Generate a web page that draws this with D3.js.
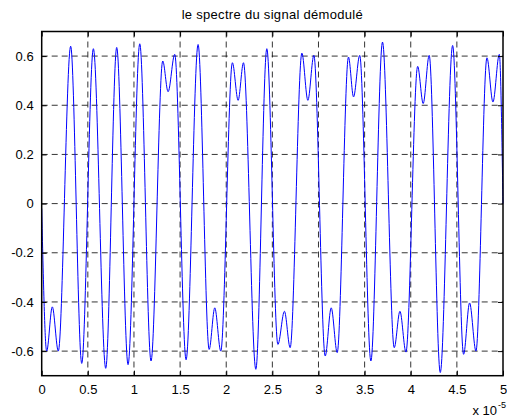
<!DOCTYPE html>
<html>
<head>
<meta charset="utf-8">
<script src="https://cdn.jsdelivr.net/npm/d3@7"></script>
<style>
  body { margin: 0; background: #fff; }
  text { font-family: "Liberation Sans", Arial, sans-serif; fill: #000; }
</style>
</head>
<body>
<svg></svg>
<script>
let width = 507;
let height = 418;

// time axis in units of 1e-5 s
let xTicks = [0, 0.5, 1, 1.5, 2, 2.5, 3, 3.5, 4, 4.5, 5];
let yTicks = [-0.6, -0.4, -0.2, 0, 0.2, 0.4, 0.6];

// extrema of the demodulated signal
let sigT = [0, 0.054, 0.115, 0.180, 0.314, 0.434, 0.560, 0.694, 0.813, 0.936,
            1.063, 1.185, 1.312, 1.370, 1.442, 1.565, 1.695, 1.815, 1.876, 1.941,
            2.067, 2.129, 2.187, 2.321, 2.440, 2.560, 2.631, 2.693, 2.820, 2.885,
            2.950, 3.073, 3.138, 3.203, 3.325, 3.380, 3.447, 3.568, 3.694, 3.821,
            3.883, 3.948, 4.075, 4.135, 4.200, 4.320, 4.454, 4.573, 4.638, 4.707,
            4.826, 4.891, 4.960, 5];
let sigV = [-0.02, -0.60, -0.42, -0.60, 0.64, -0.65, 0.63, -0.67, 0.635, -0.655,
            0.65, -0.64, 0.58, 0.455, 0.607, -0.635, 0.647, -0.593, -0.424, -0.60,
            0.573, 0.42, 0.573, -0.674, 0.63, -0.573, -0.438, -0.586, 0.612, 0.42,
            0.603, -0.62, -0.424, -0.606, 0.596, 0.434, 0.603, -0.64, 0.657, -0.586,
            -0.438, -0.604, 0.558, 0.407, 0.603, -0.687, 0.643, -0.613, -0.404, -0.60,
            0.593, 0.413, 0.607, 0.0];

let data = sigT.map((t, i) => ({ t: t, v: sigV[i] }));

let pLeft = 41.7, pRight = 503, pTop = 31.5, pBottom = 375.7;

let svg = d3.select("svg")
            .attr("width", width)
            .attr("height", height);

let xScale = d3.scaleLinear()
               .domain([0, 5])
               .range([pLeft, pRight]);

let yScale = d3.scaleLinear()
               .domain([-0.7, 0.7])
               .range([pBottom, pTop]);

// grid
let grid = svg.append("g")
              .attr("stroke", "#000")
              .attr("stroke-width", 0.8)
              .attr("stroke-dasharray", "6,4");

grid.selectAll(".gx")
    .data(xTicks.slice(1, -1))
    .enter()
    .append("line")
    .attr("x1", (d) => xScale(d))
    .attr("x2", (d) => xScale(d))
    .attr("y1", pTop)
    .attr("y2", pBottom);

grid.selectAll(".gy")
    .data(yTicks)
    .enter()
    .append("line")
    .attr("x1", pLeft)
    .attr("x2", pRight)
    .attr("y1", (d) => yScale(d))
    .attr("y2", (d) => yScale(d));

// signal
let line = d3.line()
             .x((d) => xScale(d.t))
             .y((d) => yScale(d.v))
             .curve(d3.curveMonotoneX);

svg.append("path")
   .datum(data)
   .attr("d", line)
   .attr("fill", "none")
   .attr("stroke", "#0000ff")
   .attr("stroke-width", 1);

// axes, ticks pointing inward
let fmt = (d) => String(d);

svg.append("g")
   .attr("transform", "translate(0," + pBottom + ")")
   .call(d3.axisBottom(xScale).tickValues(xTicks).tickSize(-5).tickPadding(9).tickFormat(fmt));

svg.append("g")
   .attr("transform", "translate(0," + pTop + ")")
   .call(d3.axisTop(xScale).tickValues(xTicks).tickSize(-5).tickFormat(""));

svg.append("g")
   .attr("transform", "translate(" + pLeft + ",0)")
   .call(d3.axisLeft(yScale).tickValues(yTicks).tickSize(-5).tickPadding(8).tickFormat(fmt));

svg.append("g")
   .attr("transform", "translate(" + pRight + ",0)")
   .call(d3.axisRight(yScale).tickValues(yTicks).tickSize(-5).tickFormat(""));

svg.selectAll(".domain").remove();
svg.selectAll(".tick line").attr("stroke", "#000");
svg.selectAll(".tick text")
   .style("font-size", "13px")
   .style("font-family", "'Liberation Sans', Arial, sans-serif");

svg.append("rect")
   .attr("x", pLeft)
   .attr("y", pTop)
   .attr("width", pRight - pLeft)
   .attr("height", pBottom - pTop)
   .attr("fill", "none")
   .attr("stroke", "#000")
   .attr("stroke-width", 1.5);

// title
svg.append("text")
   .attr("x", (pLeft + pRight) / 2)
   .attr("y", 19)
   .attr("text-anchor", "middle")
   .style("font-size", "13px")
   .style("letter-spacing", "0.3px")
   .text("le spectre du signal démodulé");

// exponent label
svg.append("text")
   .attr("x", 497)
   .attr("y", 415)
   .attr("text-anchor", "end")
   .style("font-size", "13px")
   .text("x 10");

svg.append("text")
   .attr("x", 498)
   .attr("y", 408)
   .style("font-size", "9px")
   .text("-5");
</script>
</body>
</html>
